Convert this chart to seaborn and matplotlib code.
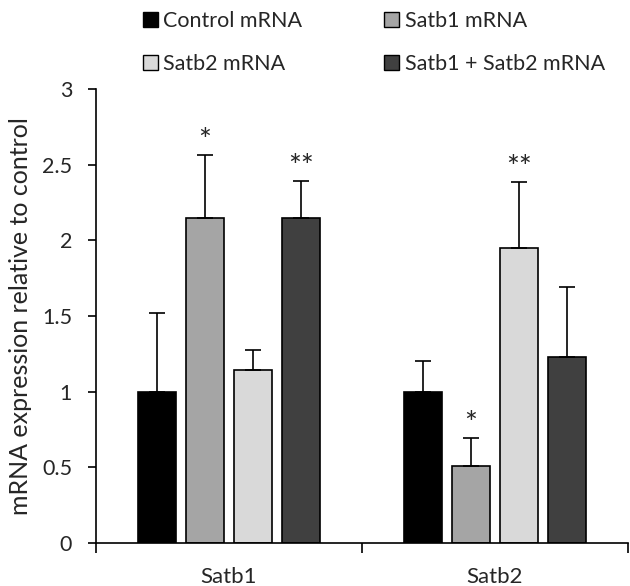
import matplotlib
matplotlib.use('Agg')
import matplotlib.pyplot as plt
import seaborn as sns
import pandas as pd
import numpy as np

# Values
genes = ['Satb1', 'Satb2']
treatments = ['Control mRNA', 'Satb1 mRNA', 'Satb2 mRNA', 'Satb1 + Satb2 mRNA']
means = {
    'Control mRNA': [1.0, 1.0],
    'Satb1 mRNA': [2.15, 0.51],
    'Satb2 mRNA': [1.14, 1.95],
    'Satb1 + Satb2 mRNA': [2.15, 1.23],
}
errors = {
    'Control mRNA': [0.52, 0.205],
    'Satb1 mRNA': [0.415, 0.185],
    'Satb2 mRNA': [0.135, 0.435],
    'Satb1 + Satb2 mRNA': [0.245, 0.465],
}
stars = {
    'Control mRNA': ['', ''],
    'Satb1 mRNA': ['*', '*'],
    'Satb2 mRNA': ['', '**'],
    'Satb1 + Satb2 mRNA': ['**', ''],
}
colors = ['#000000', '#a5a5a5', '#d9d9d9', '#404040']

rows = []
for t in treatments:
    for g, m in zip(genes, means[t]):
        rows.append({'gene': g, 'treatment': t, 'value': m})
df = pd.DataFrame(rows)

sns.set_style('white')
plt.rcParams['font.family'] = ['Lato', 'DejaVu Sans']

fig = plt.figure(figsize=(6.3, 5.86), dpi=100)
ax = fig.add_axes([0.152, 0.0734, 0.845, 0.7746])

sns.barplot(data=df, x='gene', y='value', hue='treatment', hue_order=treatments,
            palette=colors, width=0.72, gap=0.2, edgecolor='black', linewidth=1.2,
            errorbar=None, ax=ax)

# one-sided error bars and significance marks
for t, cont in zip(treatments, ax.containers):
    for i, bar in enumerate(cont):
        xc = bar.get_x() + bar.get_width() / 2
        h = bar.get_height()
        e = errors[t][i]
        ax.errorbar(xc, h, yerr=[[0], [e]], fmt='none', ecolor='black',
                    elinewidth=1.2, capsize=6, capthick=1.2)
        if stars[t][i]:
            ax.text(xc, h + e + 0.0, stars[t][i], ha='center', va='bottom',
                    fontsize=22)

ax.set_xlim(-0.5, 1.5)
ax.set_ylim(0, 3)
ax.set_yticks([0, 0.5, 1, 1.5, 2, 2.5, 3])
ax.set_yticklabels(['0', '0.5', '1', '1.5', '2', '2.5', '3'])
ax.set_ylabel('mRNA expression relative to control', fontsize=18, labelpad=7)
ax.set_xlabel('')
ax.tick_params(axis='y', direction='out', length=6, width=1.2, labelsize=15.5,
               left=True, color='black', pad=11)
ax.tick_params(axis='x', which='major', length=0, labelsize=16, pad=17)
ax.set_xticks([-0.5, 0.5, 1.5], minor=True)
ax.tick_params(axis='x', which='minor', direction='out', length=7, width=1.2,
               bottom=True, color='black')
for s in ['top', 'right']:
    ax.spines[s].set_visible(False)
for s in ['left', 'bottom']:
    ax.spines[s].set_color('black')
    ax.spines[s].set_linewidth(1.2)

ax.legend_.remove()
handles = [plt.Rectangle((0, 0), 1, 1, facecolor=c, edgecolor='black', linewidth=1)
           for c in colors]
# legend fills column-wise, so order to read row-wise as in the reference
order = [0, 2, 1, 3]
fig.legend([handles[k] for k in order], [treatments[k] for k in order],
           loc='upper left', bbox_to_anchor=(0.196, 1.014),
           ncol=2, frameon=False, fontsize=15.5, handlelength=0.7, handleheight=0.7,
           handletextpad=0.25, columnspacing=3.8, labelspacing=1.05)

fig.savefig('out.png', dpi=100)
